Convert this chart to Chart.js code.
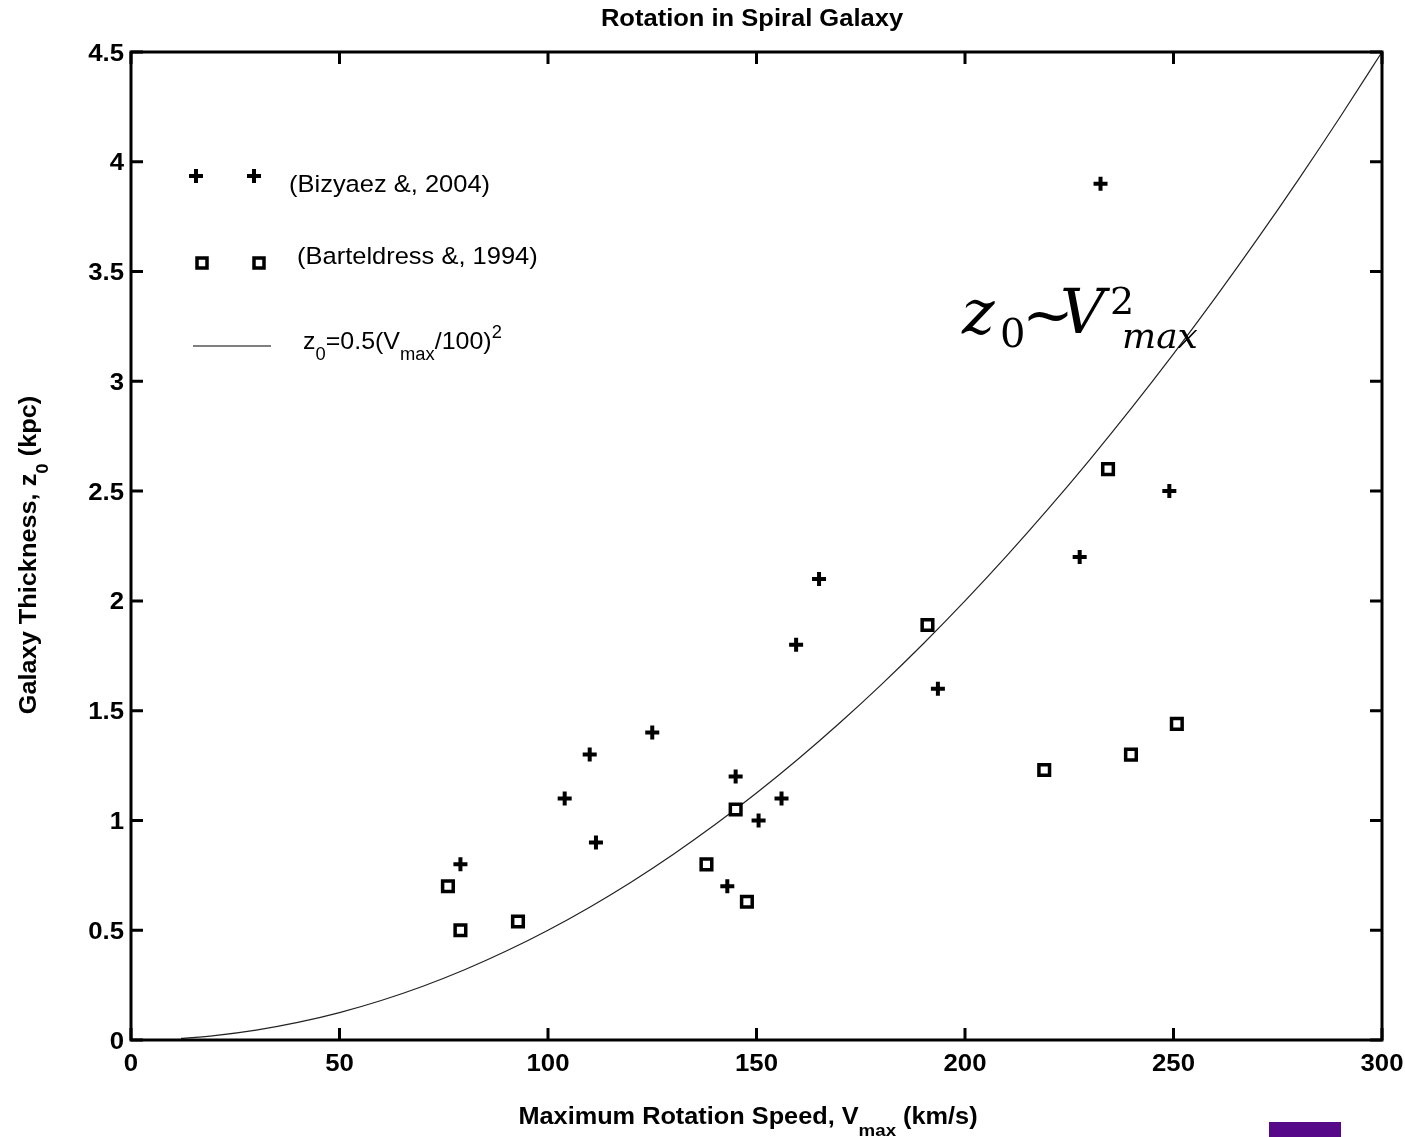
<!DOCTYPE html>
<html>
<head>
<meta charset="utf-8">
<script src="https://cdn.jsdelivr.net/npm/chart.js@4.4.1/dist/chart.umd.min.js"></script>
<style>
  html, body { margin: 0; padding: 0; background: #fff; }
  #wrap { width: 1405px; height: 1137px; position: relative; }
</style>
</head>
<body>
<div id="wrap"><canvas id="chart"></canvas></div>
<script>
// Bizyaez (2004) points
const bizV = [79, 104, 110, 111.5, 125, 143, 145, 150.5, 156, 159.5, 165, 193.5, 227.5, 232.5, 249];
const bizZ = [0.80, 1.10, 1.30, 0.90, 1.40, 0.70, 1.20, 1.00, 1.10, 1.80, 2.10, 1.60, 2.20, 3.90, 2.50];

// Barteldress (1994) points
const barV = [76, 79, 92.8, 138, 145, 147.7, 191, 219, 234.3, 239.8, 250.8];
const barZ = [0.70, 0.50, 0.54, 0.80, 1.05, 0.63, 1.89, 1.23, 2.60, 1.30, 1.44];

// fitted curve z0 = 0.5 (Vmax/100)^2
const curveV = [12, 20, 30, 40, 50, 60, 70, 80, 90, 100, 110, 120, 130, 140, 150, 160, 170, 180, 190, 200, 210, 220, 230, 240, 250, 260, 270, 280, 290, 300];
const curveZ = [0.007, 0.02, 0.045, 0.08, 0.125, 0.18, 0.245, 0.32, 0.405, 0.5, 0.605, 0.72, 0.845, 0.98, 1.125, 1.28, 1.445, 1.62, 1.805, 2.0, 2.205, 2.42, 2.645, 2.88, 3.125, 3.38, 3.645, 3.92, 4.205, 4.5];

// axis ticks
const xTicks = [0, 50, 100, 150, 200, 250, 300];
const yTicks = [0, 0.5, 1, 1.5, 2, 2.5, 3, 3.5, 4, 4.5];
const xTickLabels = ['0', '50', '100', '150', '200', '250', '300'];
const yTickLabels = ['0', '0.5', '1', '1.5', '2', '2.5', '3', '3.5', '4', '4.5'];

const FONT = "'Liberation Sans', Arial, sans-serif";

const toPoints = (xs, ys) => xs.map((x, i) => ({ x, y: ys[i] }));

// draws text with sub/superscript pieces: [text, 'n'|'sub'|'sup'], sx = horizontal stretch
function richText(ctx, parts, x, y, size, weight, align, sx = 1, subDrop = 0.4) {
  const fontFor = k => `${weight} ${k === 'n' ? size : Math.round(size * 0.75)}px ${FONT}`;
  const widths = parts.map(([t, k]) => {
    ctx.font = fontFor(k);
    return ctx.measureText(t).width * sx;
  });
  const total = widths.reduce((a, b) => a + b, 0);
  let cx = x;
  if (align === 'center') cx = x - total / 2;
  if (align === 'right') cx = x - total;
  parts.forEach(([t, k], i) => {
    ctx.font = fontFor(k);
    const dy = k === 'sub' ? size * subDrop : k === 'sup' ? -size * 0.45 : 0;
    ctx.save();
    ctx.translate(cx, y + dy);
    ctx.scale(sx, 1);
    ctx.fillText(t, 0, 0);
    ctx.restore();
    cx += widths[i];
  });
}

const decorations = {
  id: 'decorations',
  afterDraw(chart) {
    const { ctx, chartArea: a, scales } = chart;
    ctx.save();
    ctx.fillStyle = '#000';
    ctx.strokeStyle = '#000';
    ctx.textBaseline = 'alphabetic';
    ctx.textAlign = 'left';

    // inward ticks on all sides + tick labels
    ctx.lineWidth = 3;
    ctx.beginPath();
    xTicks.forEach(v => {
      const px = scales.x.getPixelForValue(v);
      ctx.moveTo(px, a.bottom); ctx.lineTo(px, a.bottom - 12);
      ctx.moveTo(px, a.top); ctx.lineTo(px, a.top + 12);
    });
    yTicks.forEach(v => {
      const py = scales.y.getPixelForValue(v);
      ctx.moveTo(a.left, py); ctx.lineTo(a.left + 12, py);
      ctx.moveTo(a.right, py); ctx.lineTo(a.right - 12, py);
    });
    ctx.stroke();
    xTicks.forEach((v, i) => {
      richText(ctx, [[xTickLabels[i], 'n']], scales.x.getPixelForValue(v), a.bottom + 31, 23, 'bold', 'center', 1.12);
    });
    yTicks.forEach((v, i) => {
      richText(ctx, [[yTickLabels[i], 'n']], a.left - 7, scales.y.getPixelForValue(v) + 8.5, 23, 'bold', 'right', 1.12);
    });

    // box
    ctx.lineWidth = 3;
    ctx.strokeRect(a.left, a.top, a.right - a.left, a.bottom - a.top);

    // title
    richText(ctx, [['Rotation in Spiral Galaxy', 'n']], 752, 26, 23, 'bold', 'center', 1.11);

    // x axis title
    richText(ctx, [['Maximum Rotation Speed, V', 'n'], ['max', 'sub'], [' (km/s)', 'n']], 748, 1124, 23, 'bold', 'center', 1.1, 0.5);

    // y axis title
    ctx.save();
    ctx.translate(36, 555);
    ctx.rotate(-Math.PI / 2);
    richText(ctx, [['Galaxy Thickness, z', 'n'], ['0', 'sub'], [' (kpc)', 'n']], 0, 0, 23, 'bold', 'center', 1.1, 0.5);
    ctx.restore();

    // legend
    const plus = (x, y) => {
      ctx.lineWidth = 4;
      ctx.beginPath();
      ctx.moveTo(x - 7, y); ctx.lineTo(x + 7, y);
      ctx.moveTo(x, y - 7); ctx.lineTo(x, y + 7);
      ctx.stroke();
    };
    const square = (x, y) => {
      ctx.lineWidth = 3.5;
      ctx.strokeRect(x - 5, y - 5, 10, 10);
    };
    plus(196, 176); plus(254, 176);
    square(202, 263); square(259, 263);
    ctx.lineWidth = 1;
    ctx.beginPath(); ctx.moveTo(193, 346); ctx.lineTo(271, 346); ctx.stroke();
    richText(ctx, [['(Bizyaez &, 2004)', 'n']], 289, 192, 24.5, 'normal', 'left', 1.04);
    richText(ctx, [['(Barteldress &, 1994)', 'n']], 297, 264, 24.5, 'normal', 'left', 1.04);
    richText(ctx, [['z', 'n'], ['0', 'sub'], ['=0.5(V', 'n'], ['max', 'sub'], ['/100)', 'n'], ['2', 'sup']], 303, 349, 24.5, 'normal', 'left', 1.02, 0.45);

    // annotation z0 ~ Vmax^2
    const serif = "'DejaVu Serif', 'Liberation Serif', serif";
    const piece = (t, font, x, y) => { ctx.font = font; ctx.fillText(t, x, y); };
    piece('z', `italic 62px ${serif}`, 962, 333);
    piece('0', `40px ${serif}`, 1000, 347);
    piece('~', `62px ${serif}`, 1022, 336);
    piece('V', `italic 62px ${serif}`, 1060, 333);
    piece('2', `38px ${serif}`, 1110, 314);
    piece('max', `italic 36px ${serif}`, 1122, 348);

    // purple block, bottom right
    ctx.fillStyle = '#560a8a';
    ctx.fillRect(1269, 1122, 72, 15);

    ctx.restore();
  }
};

new Chart(document.getElementById('chart'), {
  type: 'scatter',
  data: {
    datasets: [
      {
        label: 'Bizyaez 2004',
        data: toPoints(bizV, bizZ),
        pointStyle: 'cross',
        radius: 7,
        borderWidth: 4,
        borderColor: '#000',
        backgroundColor: '#000',
      },
      {
        label: 'Barteldress 1994',
        data: toPoints(barV, barZ),
        pointStyle: 'rect',
        radius: 7.5,
        borderWidth: 3.5,
        borderColor: '#000',
        backgroundColor: '#fff',
      },
      {
        label: 'z0 fit',
        type: 'line',
        data: toPoints(curveV, curveZ),
        showLine: true,
        pointRadius: 0,
        borderWidth: 1.2,
        borderColor: '#222',
        cubicInterpolationMode: 'monotone',
        fill: false,
      }
    ]
  },
  options: {
    responsive: true,
    maintainAspectRatio: false,
    animation: false,
    layout: { padding: { top: 52, right: 23, left: 0, bottom: 0 } },
    plugins: {
      legend: { display: false },
      title: { display: false },
      tooltip: { enabled: false }
    },
    scales: {
      x: {
        type: 'linear',
        min: 0,
        max: 300,
        ticks: { display: false, stepSize: 50 },
        grid: { display: false, drawTicks: false },
        border: { display: false },
        afterFit(s) { s.height = 97; }
      },
      y: {
        type: 'linear',
        min: 0,
        max: 4.5,
        ticks: { display: false, stepSize: 0.5 },
        grid: { display: false, drawTicks: false },
        border: { display: false },
        afterFit(s) { s.width = 131; }
      }
    }
  },
  plugins: [decorations]
});
</script>
</body>
</html>
